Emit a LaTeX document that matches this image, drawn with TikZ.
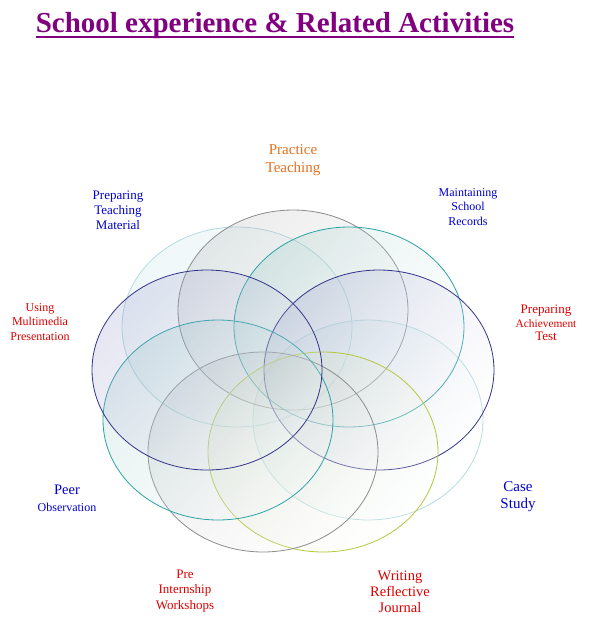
\documentclass[tikz,border=0pt]{standalone}
\usepackage{fontspec}
\setmainfont{Liberation Serif}
\usetikzlibrary{shapes.geometric}
\definecolor{titlepurple}{HTML}{800080}
\definecolor{lblblue}{HTML}{0000CC}
\definecolor{lblred}{HTML}{DD0000}
\definecolor{lblorange}{HTML}{E2711E}
\definecolor{greyline}{HTML}{8C8C8C}
\definecolor{greyfill}{HTML}{A0A0A0}
\definecolor{tealline}{HTML}{2AA3A3}
\definecolor{tealfill}{HTML}{7EBEB8}
\definecolor{navyline}{HTML}{33338A}
\definecolor{navyfill}{HTML}{8484C0}
\definecolor{paleline}{HTML}{B5DBE0}
\definecolor{palefill}{HTML}{B0DADF}
\definecolor{limeline}{HTML}{B4C83C}
\definecolor{limefill}{HTML}{CCDAA8}

\begin{document}
\begin{tikzpicture}[
      x=1pt, y=-1pt,
      ring/.style={ellipse, minimum width=230pt, minimum height=200pt, inner sep=0pt,
        fill opacity=0.2, line width=0.8pt},
      tint/.style={top color=#1, middle color=white, bottom color=white, shading angle=50},
      lbl/.style={align=center, inner sep=0pt}
    ]
    \useasboundingbox (0,0) rectangle (590,633);
    % title
    \node[inner sep=0pt, anchor=base, text=titlepurple, font=\fontsize{29}{32}\selectfont\bfseries] (ttl) at (275,32) {School experience \& Related Activities};
    \draw[titlepurple, line width=2.6pt] ([yshift=-5pt]ttl.base west) -- ([yshift=-5pt]ttl.base east);
    % rings
    \node[ring, draw=paleline, tint=palefill] (rmat) at (237,327) {};
    \node[ring, draw=paleline, tint=palefill] (rcase) at (368,420) {};
    \node[ring, draw=greyline, tint=greyfill] (rprac) at (293,310) {};
    \node[ring, draw=tealline, tint=tealfill] (rrec) at (349,327) {};
    \node[ring, draw=navyline, tint=navyfill] (rtest) at (379,370) {};
    \node[ring, draw=limeline, tint=limefill] (rjour) at (323,452) {};
    \node[ring, draw=greyline, tint=greyfill] (rpre) at (263,452) {};
    \node[ring, draw=tealline, tint=tealfill] (rpeer) at (218,420) {};
    \node[ring, draw=navyline, tint=navyfill] (rmm) at (207,370) {};
    % labels
    \node[lbl, text=lblorange, font=\fontsize{15}{18}\selectfont] (lprac) at (293,160) {Practice\\Teaching};
    \node[lbl, text=lblblue, font=\fontsize{13}{15}\selectfont] (lmat) at (118,210) {Preparing\\Teaching\\Material};
    \node[lbl, text=lblblue, font=\fontsize{12}{14.5}\selectfont] (lrec) at (468,207) {Maintaining\\School\\Records};
    \node[lbl, text=lblred, font=\fontsize{12}{14.5}\selectfont] (lmm) at (40,322) {Using\\Multimedia\\Presentation};
    \node[lbl, text=lblred, font=\fontsize{13}{13.5}\selectfont] (ltest) at (546,323) {Preparing\\{\fontsize{11.4}{13.5}\selectfont Achievement}\\Test};
    \node[lbl, text=lblblue, font=\fontsize{14.5}{17}\selectfont] (lpeer) at (67,498) {Peer\\{\fontsize{12}{17}\selectfont Observation}};
    \node[lbl, text=lblblue, font=\fontsize{15}{17}\selectfont] (lcase) at (518,497) {Case\\Study};
    \node[lbl, text=lblred, font=\fontsize{13}{15.5}\selectfont] (lpre) at (185,591) {Pre\\Internship\\Workshops};
    \node[lbl, text=lblred, font=\fontsize{14.5}{16}\selectfont] (ljour) at (400,592) {Writing\\Reflective\\Journal};
  \end{tikzpicture}
\end{document}
